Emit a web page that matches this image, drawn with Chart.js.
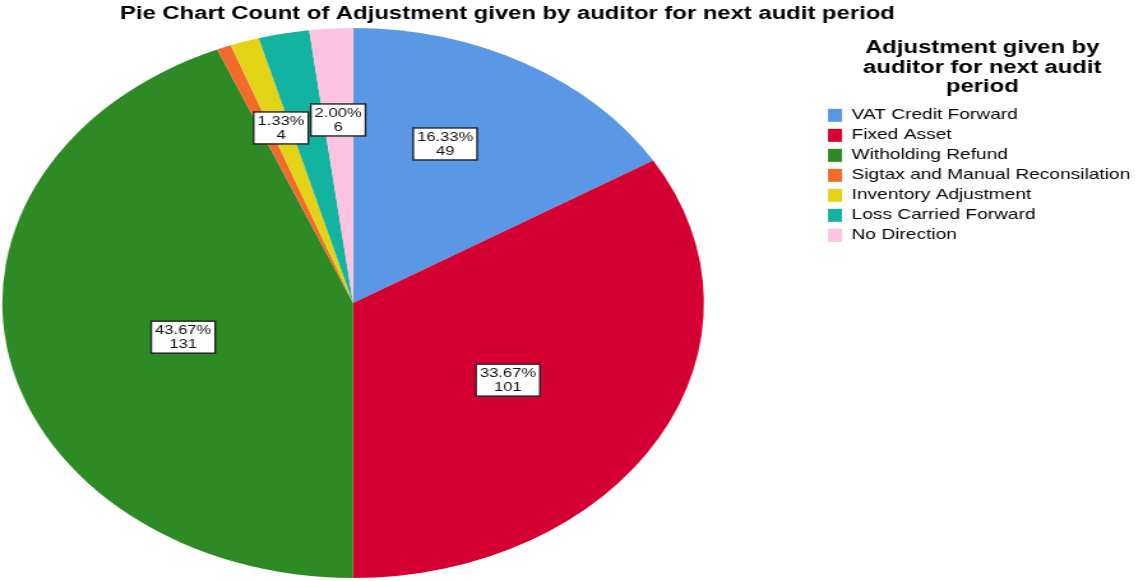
<!DOCTYPE html>
<html>
<head>
<meta charset="utf-8">
<script src="https://cdn.jsdelivr.net/npm/chart.js@4.4.1/dist/chart.umd.min.js"></script>
<style>
  html, body { margin: 0; padding: 0; background: #fff; overflow: hidden; }
</style>
</head>
<body>
<!-- canvas is drawn narrow and stretched sideways, like the original export -->
<canvas id="chart" width="896" height="581" style="display:block;width:1142.6px;height:581px"></canvas>
<script>
const categories = [
  'VAT Credit Forward',
  'Fixed Asset',
  'Witholding Refund',
  'Sigtax and Manual Reconsilation',
  'Inventory Adjustment',
  'Loss Carried Forward',
  'No Direction'
]
const counts = [49, 101, 131, 2, 4, 7, 6]
const sliceColors = ['#5a97e4', '#d50032', '#2d8a25', '#f26b2b', '#e2d317', '#12b3a0', '#fdc4e1']
const chartTitle = 'Pie Chart Count of Adjustment given by auditor for next audit period'
const legendTitle = ['Adjustment given by', 'auditor for next audit', 'period']

const FONT = '"Liberation Sans", Arial, sans-serif'
Chart.defaults.font.family = FONT
Chart.defaults.color = '#000'

// where the pie sits, and which slices get a value box
// (t = how far along the slice, r = share of the radius)
const pieCenter = { x: 276.8, y: 303 }
const labelSpots = {
  0: { t: 0.415, r: 0.635 },
  1: { t: 0.525, r: 0.523 },
  2: { t: 0.481, r: 0.5 },
  4: { t: 0.52, r: 0.669 },
  6: { t: 0.49, r: 0.667 }
}

const piePlacer = {
  id: 'piePlacer',
  beforeDatasetsDraw (chart) {
    const arc = chart.getDatasetMeta(0).data[0]
    chart.ctx.save()
    chart.ctx.translate(pieCenter.x - arc.x, pieCenter.y - arc.y)
  },
  afterDatasetsDraw (chart) {
    const ctx = chart.ctx
    ctx.restore()
    const meta = chart.getDatasetMeta(0)
    const total = counts.reduce((a, b) => a + b, 0)
    ctx.save()
    ctx.font = '13px ' + FONT
    ctx.textAlign = 'center'
    ctx.textBaseline = 'middle'
    Object.keys(labelSpots).forEach(k => {
      const i = Number(k)
      const arc = meta.data[i]
      const spot = labelSpots[k]
      const ang = arc.startAngle + (arc.endAngle - arc.startAngle) * spot.t
      const r = arc.outerRadius * spot.r
      const x = pieCenter.x + Math.cos(ang) * r
      const y = pieCenter.y + Math.sin(ang) * r
      const lines = [(counts[i] / total * 100).toFixed(2) + '%', String(counts[i])]
      const w = Math.max(...lines.map(t => ctx.measureText(t).width)) + 6
      const h = 32
      ctx.fillStyle = '#fff'
      ctx.fillRect(x - w / 2, y - h / 2, w, h)
      ctx.strokeStyle = '#222'
      ctx.lineWidth = 1.4
      ctx.strokeRect(x - w / 2, y - h / 2, w, h)
      ctx.fillStyle = '#111'
      ctx.fillText(lines[0], x, y - 6.5)
      ctx.fillText(lines[1], x, y + 7.5)
    })
    ctx.restore()
  }
}

new Chart(document.getElementById('chart'), {
  type: 'pie',
  data: {
    labels: categories,
    datasets: [{
      data: counts,
      backgroundColor: sliceColors,
      borderWidth: 0,
      radius: 275,
      clip: false
    }]
  },
  options: {
    responsive: false,
    animation: false,
    events: [],
    layout: { padding: { left: 94.1, right: 0, top: 0, bottom: 0 } },
    plugins: {
      title: {
        display: true,
        text: chartTitle,
        align: 'start',
        color: '#000',
        font: { size: 18.7, weight: 'bold' },
        padding: { top: 3, bottom: 0 }
      },
      legend: {
        position: 'right',
        align: 'start',
        title: {
          display: true,
          text: legendTitle,
          color: '#000',
          font: { size: 18.7, weight: 'bold', lineHeight: 1.045 },
          padding: { top: 38.5, bottom: 44.8 }
        },
        labels: {
          boxWidth: 11,
          boxHeight: 13,
          padding: 5,
          color: '#000',
          font: { size: 15 }
        }
      },
      tooltip: { enabled: false }
    }
  },
  plugins: [piePlacer]
})
</script>
</body>
</html>
